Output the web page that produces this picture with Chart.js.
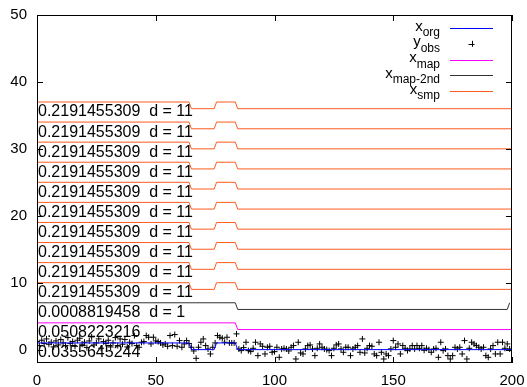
<!DOCTYPE html>
<html>
<head>
<meta charset="utf-8">
<script src="https://cdn.jsdelivr.net/npm/chart.js@4/dist/chart.umd.min.js"></script>
<style>
html,body{margin:0;padding:0;background:#fff;}
#c{display:block;}
</style>
</head>
<body>
<canvas id="c" width="527" height="387"></canvas>
<script>
// ---- data ----
const xTicks = [0, 50, 100, 150, 200];
const yTicks = [0, 10, 20, 30, 40, 50];

// step signal breakpoints (x positions) and x_org levels
const stepX = [0, 64, 65, 74.6, 75.6, 83.5, 84.5, 200];
const orgY  = [1, 1, 0, 0, 1, 1, 0, 0];

// x_map
const mapX = [0, 83.5, 84.5, 200];
const mapY = [4, 4, 3, 3];

// x_map-2nd
const map2X = [0, 83.5, 84.5, 198, 199];
const map2Y = [7, 7, 6, 6, 7];

// x_smp : ten stacked copies, high level of each copy and the step shape
const smpHigh  = [10, 13, 16, 19, 22, 25, 28, 31, 34, 37];
const smpShape = [0, 0, -1, -1, 0, 0, -1, -1];

// observations y_obs at x = 0..199
const yObs = [
 1.2, 0.6, 1.4, 0.9, 1.6, 0.8, 1.1, 0.4, 1.3, 0.7,
 1.5, 1.0, 0.6, 1.8, 0.9, 1.2, 0.5, 1.4, 1.7, 0.8,
 1.1, 0.3, 1.3, 1.9, 0.7, 1.0, 1.6, 0.2, 1.2, 0.9,
 1.4, 0.4, 1.0, 1.8, 0.6, 1.6, 0.8, 1.5, 0.4, 1.1,
 0.9, 2.1, 0.6, 0.35, 1.1, 1.2, 2.1, 1.85, 0.85, 1.85,
 1.3, 1.2, 1.0, 0.7, 0.85, 0.5, 2.1, 0.6, 2.25, 0.5,
 1.35, 0.35, 0.85, 1.35, 0.9, 0.35, -0.2, -1.3, 0.35, 1.1,
 1.6, 0.6, 0.1, -0.65, 0.35, 1.0, 2.1, 1.85, 1.7, 1.1,
 1.85, 1.0, 1.0, 1.0, 2.35, 0.1, -0.15, 0.3, 1.1, -0.15,
 -0.3, 0.2, 1.1, -0.9, 0.85, 0.5, -0.65, 0.35, 0.5, -0.4,
 -0.3, 0.35, -1.15, 0.1, 0.2, 0.1, -0.2, 0.35, 0.6, -1.4,
 1.1, -0.5, -0.65, 0.1, 0.6, 0.7, 0.1, -0.9, 0.2, 0.85,
 0.35, 0.1, 0.0, -0.15, -0.9, 0.2, 0.7, 0.85, 0.1, -0.4,
 0.35, 0.35, -0.9, 0.1, 0.35, 0.6, -0.4, 1.6, -0.5, 0.2,
 0.6, 0.5, -0.65, -0.9, 1.1, -0.4, -1.4, -0.65, -0.9, 0.1,
 1.35, 0.35, 0.85, -0.65, 0.6, 0.2, -0.15, 0.1, 0.6, 0.1,
 0.6, 0.2, 0.6, -0.1, 0.2, 0.0, -0.4, 0.1, 0.2, -1.15,
 1.1, -0.15, 0.1, -0.9, -1.4, -0.9, 0.35, 0.1, 0.35, -0.65,
 1.35, -1.4, 0.2, 1.1, 0.85, 0.6, 0.35, 0.1, 0.35, -0.9,
 -1.15, 0.1, 0.6, -0.65, 1.1, -0.65, 1.1, 0.2, 0.85, 0.1
];

// text labels
const smpLabel  = '0.2191455309  d = 11';
const map2Label = '0.0008819458  d = 1';
const mapLabel  = '0.0508223216';
const orgLabel  = '0.0355645244';
const labelDrop = 1.5;

// legend entries
const legendEntries = [
  {main: 'x', sub: 'org',     kind: 'line',  color: '#0000ff'},
  {main: 'y', sub: 'obs',     kind: 'point', color: '#000000'},
  {main: 'x', sub: 'map',     kind: 'line',  color: '#ff00ff'},
  {main: 'x', sub: 'map-2nd', kind: 'line',  color: '#333333'},
  {main: 'x', sub: 'smp',     kind: 'line',  color: '#ff5a1e'}
];

// ---- build datasets ----
const pts = (xa, ya) => xa.map((x, i) => ({x: x, y: ya[i]}));
const lineDs = (data, color) => ({
  type: 'line', data: data, borderColor: color, borderWidth: 1,
  pointRadius: 0, fill: false, tension: 0
});

const datasets = [];
datasets.push(lineDs(pts(stepX, orgY), '#0000ff'));
datasets.push({
  type: 'scatter', data: yObs.map((v, i) => ({x: i, y: v})),
  pointStyle: 'cross', pointRadius: 3, borderColor: '#000', borderWidth: 1,
  backgroundColor: '#000'
});
datasets.push(lineDs(pts(mapX, mapY), '#ff00ff'));
datasets.push(lineDs(pts(map2X, map2Y), '#333333'));
smpHigh.forEach(h => {
  datasets.push(lineDs(stepX.map((x, i) => ({x: x, y: h + smpShape[i]})), '#ff5a1e'));
});

const labels = [];
smpHigh.forEach(h => labels.push({text: smpLabel, y: h - labelDrop}));
labels.push({text: map2Label, y: map2Y[0] - labelDrop});
labels.push({text: mapLabel, y: mapY[0] - labelDrop});
labels.push({text: orgLabel, y: orgY[0] - labelDrop});

const FONT = '"Liberation Sans", Arial, sans-serif';

const decor = {
  id: 'decor',
  afterDatasetsDraw(chart) {
    const ctx = chart.ctx, a = chart.chartArea;
    const xs = chart.scales.x, ys = chart.scales.y;
    ctx.save();
    // labels
    ctx.fillStyle = '#000';
    ctx.font = '16px ' + FONT;
    ctx.textAlign = 'left';
    ctx.textBaseline = 'middle';
    labels.forEach(l => {
      ctx.fillText(l.text, xs.getPixelForValue(0) + 1, ys.getPixelForValue(l.y));
    });
    // frame
    ctx.strokeStyle = '#000';
    ctx.lineWidth = 1;
    ctx.strokeRect(Math.round(a.left) + 0.5, Math.round(a.top) + 0.5,
                   Math.round(a.right - a.left) - 1, Math.round(a.bottom - a.top) - 1);
    // inward ticks
    ctx.beginPath();
    xTicks.forEach(v => {
      const px = Math.round(xs.getPixelForValue(v)) + 0.5;
      ctx.moveTo(px, a.bottom); ctx.lineTo(px, a.bottom - 6);
      ctx.moveTo(px, a.top); ctx.lineTo(px, a.top + 6);
    });
    yTicks.forEach(v => {
      const py = Math.round(ys.getPixelForValue(v)) + 0.5;
      ctx.moveTo(a.left, py); ctx.lineTo(a.left + 6, py);
      ctx.moveTo(a.right, py); ctx.lineTo(a.right - 6, py);
    });
    ctx.stroke();
    // legend
    const textRight = 440, lx0 = 450, lx1 = 493;
    legendEntries.forEach((e, i) => {
      const cy = 28 + i * 15.8;
      ctx.font = '12px ' + FONT;
      const sw = ctx.measureText(e.sub).width;
      ctx.font = '15px ' + FONT;
      const mw = ctx.measureText(e.main).width;
      ctx.textAlign = 'left';
      ctx.textBaseline = 'alphabetic';
      ctx.fillStyle = '#000';
      ctx.fillText(e.main, textRight - sw - mw, cy + 2.5);
      ctx.font = '12px ' + FONT;
      ctx.fillText(e.sub, textRight - sw, cy + 8);
      if (e.kind === 'line') {
        ctx.strokeStyle = e.color;
        ctx.lineWidth = 1;
        ctx.beginPath();
        ctx.moveTo(lx0, Math.round(cy) + 0.5);
        ctx.lineTo(lx1, Math.round(cy) + 0.5);
        ctx.stroke();
      } else {
        const cx = (lx0 + lx1) / 2;
        ctx.strokeStyle = '#000';
        ctx.beginPath();
        ctx.moveTo(cx - 3, Math.round(cy) + 0.5); ctx.lineTo(cx + 3, Math.round(cy) + 0.5);
        ctx.moveTo(Math.round(cx) + 0.5, cy - 3); ctx.lineTo(Math.round(cx) + 0.5, cy + 3);
        ctx.stroke();
      }
    });
    ctx.restore();
  }
};

function noPad(s) {
  s.paddingLeft = 0; s.paddingRight = 0; s.paddingTop = 0; s.paddingBottom = 0;
}

new Chart(document.getElementById('c'), {
  data: {datasets: datasets},
  options: {
    responsive: false,
    animation: false,
    layout: {padding: {left: 0, right: 15, top: 15, bottom: 0}},
    plugins: {legend: {display: false}, tooltip: {enabled: false}},
    scales: {
      x: {
        type: 'linear', min: 0, max: 200,
        afterBuildTicks(s) { s.ticks = xTicks.map(v => ({value: v})); },
        ticks: {font: {family: FONT, size: 15}, color: '#000', padding: 9, maxRotation: 0, autoSkip: false},
        grid: {display: false, drawTicks: false},
        border: {display: false},
        afterFit(s) { s.height = 24; noPad(s); }
      },
      y: {
        type: 'linear', min: -2, max: 50,
        afterBuildTicks(s) { s.ticks = yTicks.map(v => ({value: v})); },
        ticks: {font: {family: FONT, size: 15}, color: '#000', padding: 10, autoSkip: false},
        grid: {display: false, drawTicks: false},
        border: {display: false},
        afterFit(s) { s.width = 37; noPad(s); }
      }
    }
  },
  plugins: [decor]
});
</script>
</body>
</html>
